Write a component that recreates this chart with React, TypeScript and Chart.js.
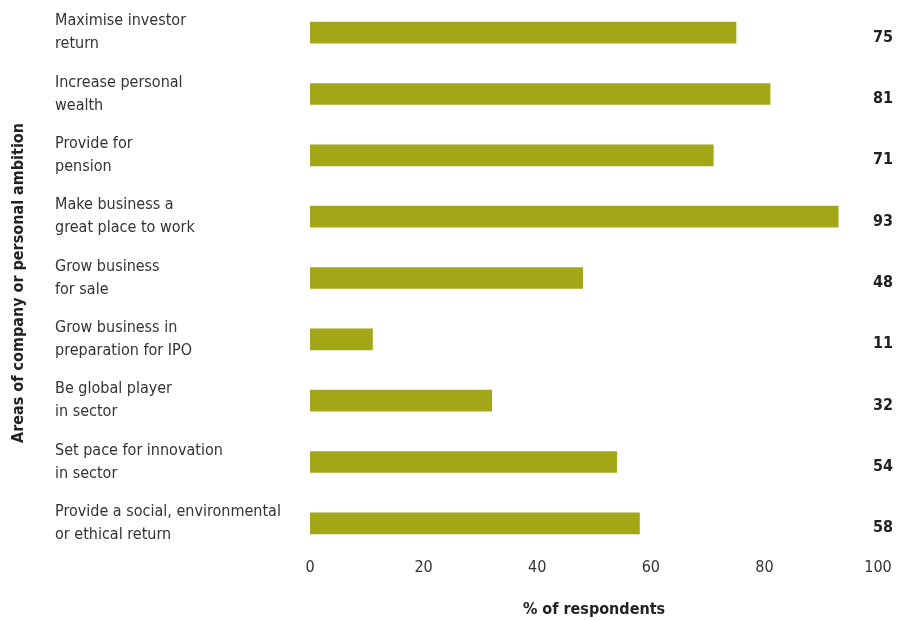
import React, { useEffect, useRef } from "react";
import { Chart, registerables } from "chart.js";

Chart.register(...registerables);

const categories: string[][] = [
  ["Maximise investor", "return"],
  ["Increase personal", "wealth"],
  ["Provide for", "pension"],
  ["Make business a", "great place to work"],
  ["Grow business", "for sale"],
  ["Grow business in", "preparation for IPO"],
  ["Be global player", "in sector"],
  ["Set pace for innovation", "in sector"],
  ["Provide a social, environmental", "or ethical return"],
];
const values: number[] = [75, 81, 71, 93, 48, 11, 32, 54, 58];
const xTicks: number[] = [0, 20, 40, 60, 80, 100];
const xTitle = "% of respondents";
const yTitle = "Areas of company or personal ambition";

const FONT = "'Liberation Sans Narrow', 'DejaVu Sans Condensed', 'Liberation Sans', sans-serif";
const BAR = "#A3A617";
const TEXT = "#333333";

const labelsPlugin = {
  id: "customLabels",
  afterDraw(chart: any) {
    const ctx = chart.ctx as CanvasRenderingContext2D;
    const yScale = chart.scales.y;
    ctx.save();
    ctx.textBaseline = "middle";
    categories.forEach((lines, i) => {
      const y = yScale.getPixelForValue(i);
      ctx.font = `16px ${FONT}`;
      ctx.fillStyle = TEXT;
      ctx.textAlign = "left";
      const n = lines.length;
      lines.forEach((ln, j) => {
        ctx.fillText(ln, 55, y + (j - (n - 1) / 2) * 23);
      });
      ctx.font = `bold 16px ${FONT}`;
      ctx.fillStyle = "#222222";
      ctx.textAlign = "right";
      ctx.fillText(String(values[i]), 893, y + 5);
    });
    ctx.translate(19, 283);
    ctx.rotate(-Math.PI / 2);
    ctx.textAlign = "center";
    ctx.font = `bold 16px ${FONT}`;
    ctx.fillStyle = "#222222";
    ctx.fillText(yTitle, 0, 0);
    ctx.restore();
  },
};

export default function App() {
  const ref = useRef<HTMLCanvasElement | null>(null);
  useEffect(() => {
    if (!ref.current) return;
    const chart = new Chart(ref.current, {
      type: "bar",
      data: {
        labels: categories.map((c) => c.join(" ")),
        datasets: [
          {
            data: values,
            backgroundColor: BAR,
            barThickness: 21,
          },
        ],
      },
      options: {
        indexAxis: "y",
        responsive: false,
        animation: false,
        layout: { padding: { top: 2, right: 28, bottom: 0, left: 0 } },
        plugins: { legend: { display: false }, tooltip: { enabled: false } },
        scales: {
          x: {
            min: 0,
            max: 100,
            afterBuildTicks: (scale: any) => {
              scale.ticks = xTicks.map((v) => ({ value: v }));
            },
            afterFit: (scale: any) => {
              scale.height = 66;
            },
            grid: { display: false, drawTicks: false },
            border: { display: false },
            ticks: {
              padding: 4,
              color: TEXT,
              font: { family: FONT, size: 16 },
            },
            title: {
              display: true,
              text: xTitle,
              color: "#222222",
              font: { family: FONT, size: 16, weight: "bold" },
              padding: { top: 22, bottom: 1 },
            },
          },
          y: {
            grid: { display: false, drawTicks: false },
            border: { display: false },
            ticks: { display: false },
            afterFit: (scale: any) => {
              scale.width = 310;
            },
          },
        },
      },
      plugins: [labelsPlugin],
    });
    return () => chart.destroy();
  }, []);
  return (
    <div style={{ position: "fixed", left: 0, top: 0, width: 906, height: 620, background: "#fff" }}>
      <canvas ref={ref} width={906} height={620} />
    </div>
  );
}
